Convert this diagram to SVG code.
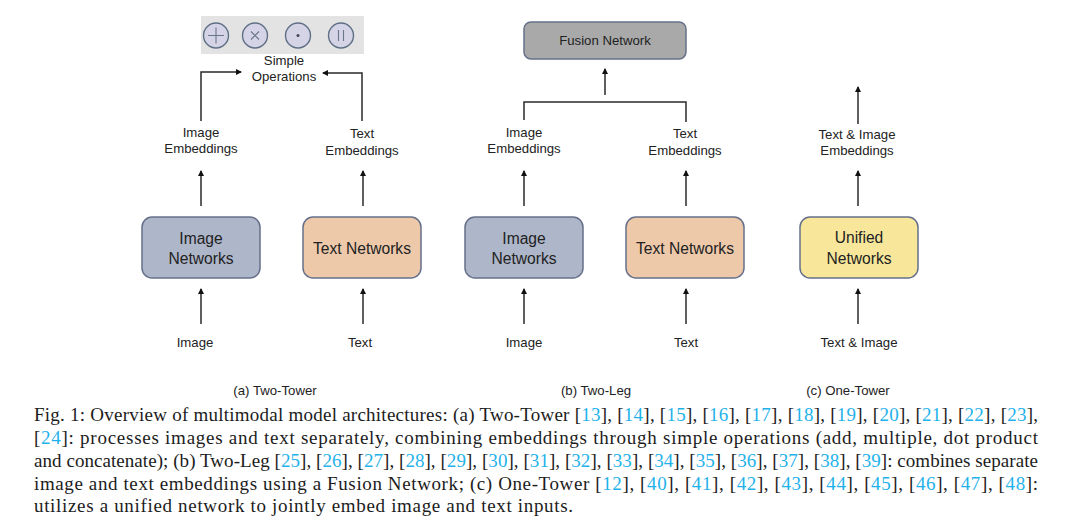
<svg xmlns="http://www.w3.org/2000/svg" width="1080" height="530" viewBox="0 0 1080 530">
<style>
text{font-family:"Liberation Sans",Arial,sans-serif;fill:#222;text-anchor:middle}
.s{font-size:13.2px}
.n{font-size:15.6px}
.c{font-family:"Liberation Serif","Times New Roman",serif;font-size:19px;text-anchor:start;fill:#1c1c1c}
.c tspan{fill:#1fb2ea}
.box{stroke:#66708a;stroke-width:1.5}
.op{fill:#d5d4e6;stroke:#5f6f86;stroke-width:1.4}
.g{fill:none;stroke:#6a7688;stroke-width:1.1}
.l{fill:none;stroke:#2a2a2a;stroke-width:1.5}
</style>
<defs><marker id="a" markerUnits="userSpaceOnUse" markerWidth="7" markerHeight="7" refX="5" refY="3" orient="auto"><path d="M0,0L6,3L0,6Z" fill="#111"/></marker></defs>
<rect width="1080" height="530" fill="#fff"/>
<g id="ops">
<rect x="201" y="16" width="163" height="38" fill="#e3e3e3"/>
<circle class="op" cx="216" cy="35.500" r="12.500"/><path class="g" d="M208 35.500H224M216 27.500V43.500"/>
<circle class="op" cx="255" cy="35.500" r="12.500"/><path class="g" d="M251 31.500L259 39.500M259 31.500L251 39.500"/>
<circle class="op" cx="298" cy="35.500" r="12.500"/><circle cx="298" cy="35.500" r="1.500" fill="#445"/>
<circle class="op" cx="341" cy="35.500" r="12.500"/><path class="g" stroke-width="1.500" d="M338.500 30V41M343.500 30V41"/>
</g>
<g id="n-simple"><text class="s" x="284" y="65">Simple</text><text class="s" x="284" y="81">Operations</text></g>
<g id="n-fusion"><rect class="box" x="524" y="22" width="162" height="37" rx="7" fill="#a9a9a9"/><text class="s" x="605" y="45">Fusion Network</text></g>
<g id="n-a-imgemb"><text class="s" x="201" y="137">Image</text><text class="s" x="201" y="153">Embeddings</text></g>
<g id="n-a-txtemb"><text class="s" x="362" y="138">Text</text><text class="s" x="362" y="155">Embeddings</text></g>
<g id="n-b-imgemb"><text class="s" x="524" y="137">Image</text><text class="s" x="524" y="153">Embeddings</text></g>
<g id="n-b-txtemb"><text class="s" x="685" y="138">Text</text><text class="s" x="685" y="155">Embeddings</text></g>
<g id="n-c-emb"><text class="s" x="857" y="139">Text &amp; Image</text><text class="s" x="857" y="155">Embeddings</text></g>
<g id="n-a-imgnet"><rect class="box" x="142" y="217" width="118" height="61" rx="10" fill="#aeb6c9"/><text class="n" x="201" y="244">Image</text><text class="n" x="201" y="264">Networks</text></g>
<g id="n-a-txtnet"><rect class="box" x="303" y="217" width="118" height="61" rx="10" fill="#edc9aa"/><text class="n" x="362" y="254">Text Networks</text></g>
<g id="n-b-imgnet"><rect class="box" x="465" y="217" width="118" height="61" rx="10" fill="#aeb6c9"/><text class="n" x="524" y="244">Image</text><text class="n" x="524" y="264">Networks</text></g>
<g id="n-b-txtnet"><rect class="box" x="626" y="217" width="118" height="61" rx="10" fill="#edc9aa"/><text class="n" x="685" y="254">Text Networks</text></g>
<g id="n-c-net"><rect class="box" x="800" y="217" width="118" height="61" rx="10" fill="#f8e79a"/><text class="n" x="859" y="243">Unified</text><text class="n" x="859" y="264">Networks</text></g>
<g id="n-a-img"><text class="s" x="195" y="347">Image</text></g>
<g id="n-a-txt"><text class="s" x="360" y="347">Text</text></g>
<g id="n-b-img"><text class="s" x="524" y="347">Image</text></g>
<g id="n-b-txt"><text class="s" x="686" y="347">Text</text></g>
<g id="n-c-in"><text class="s" x="859" y="347">Text &amp; Image</text></g>
<g id="n-a-cap"><text class="s" x="275" y="395">(a) Two-Tower</text></g>
<g id="n-b-cap"><text class="s" x="596" y="395">(b) Two-Leg</text></g>
<g id="n-c-cap"><text class="s" x="848" y="395">(c) One-Tower</text></g>
<g id="connectors">
<path class="l" marker-end="url(#a)" d="M201 121V72H241"/>
<path class="l" marker-end="url(#a)" d="M362 121V73H323"/>
<path class="l" d="M524 120V102H686V122"/>
<path class="l" marker-end="url(#a)" d="M605 95V69"/>
<path class="l" marker-end="url(#a)" d="M858 124V87"/>
<path class="l" marker-end="url(#a)" d="M201 206V171"/>
<path class="l" marker-end="url(#a)" d="M363 206V171"/>
<path class="l" marker-end="url(#a)" d="M524 206V171"/>
<path class="l" marker-end="url(#a)" d="M686 206V171"/>
<path class="l" marker-end="url(#a)" d="M858 206V171"/>
<path class="l" marker-end="url(#a)" d="M201 324V289"/>
<path class="l" marker-end="url(#a)" d="M363 324V289"/>
<path class="l" marker-end="url(#a)" d="M524 324V289"/>
<path class="l" marker-end="url(#a)" d="M686 324V289"/>
<path class="l" marker-end="url(#a)" d="M858 324V289"/>
</g>
<g id="caption">
<text class="c" x="34" y="421" textLength="1004">Fig. 1: Overview of multimodal model architectures: (a) Two-Tower [<tspan>13</tspan>], [<tspan>14</tspan>], [<tspan>15</tspan>], [<tspan>16</tspan>], [<tspan>17</tspan>], [<tspan>18</tspan>], [<tspan>19</tspan>], [<tspan>20</tspan>], [<tspan>21</tspan>], [<tspan>22</tspan>], [<tspan>23</tspan>],</text>
<text class="c" x="34" y="444" textLength="1004">[<tspan>24</tspan>]: processes images and text separately, combining embeddings through simple operations (add, multiple, dot product</text>
<text class="c" x="34" y="467" textLength="1004">and concatenate); (b) Two-Leg [<tspan>25</tspan>], [<tspan>26</tspan>], [<tspan>27</tspan>], [<tspan>28</tspan>], [<tspan>29</tspan>], [<tspan>30</tspan>], [<tspan>31</tspan>], [<tspan>32</tspan>], [<tspan>33</tspan>], [<tspan>34</tspan>], [<tspan>35</tspan>], [<tspan>36</tspan>], [<tspan>37</tspan>], [<tspan>38</tspan>], [<tspan>39</tspan>]: combines separate</text>
<text class="c" x="34" y="490" textLength="1004">image and text embeddings using a Fusion Network; (c) One-Tower [<tspan>12</tspan>], [<tspan>40</tspan>], [<tspan>41</tspan>], [<tspan>42</tspan>], [<tspan>43</tspan>], [<tspan>44</tspan>], [<tspan>45</tspan>], [<tspan>46</tspan>], [<tspan>47</tspan>], [<tspan>48</tspan>]:</text>
<text class="c" x="34" y="512" textLength="539">utilizes a unified network to jointly embed image and text inputs.</text>
</g>
</svg>
